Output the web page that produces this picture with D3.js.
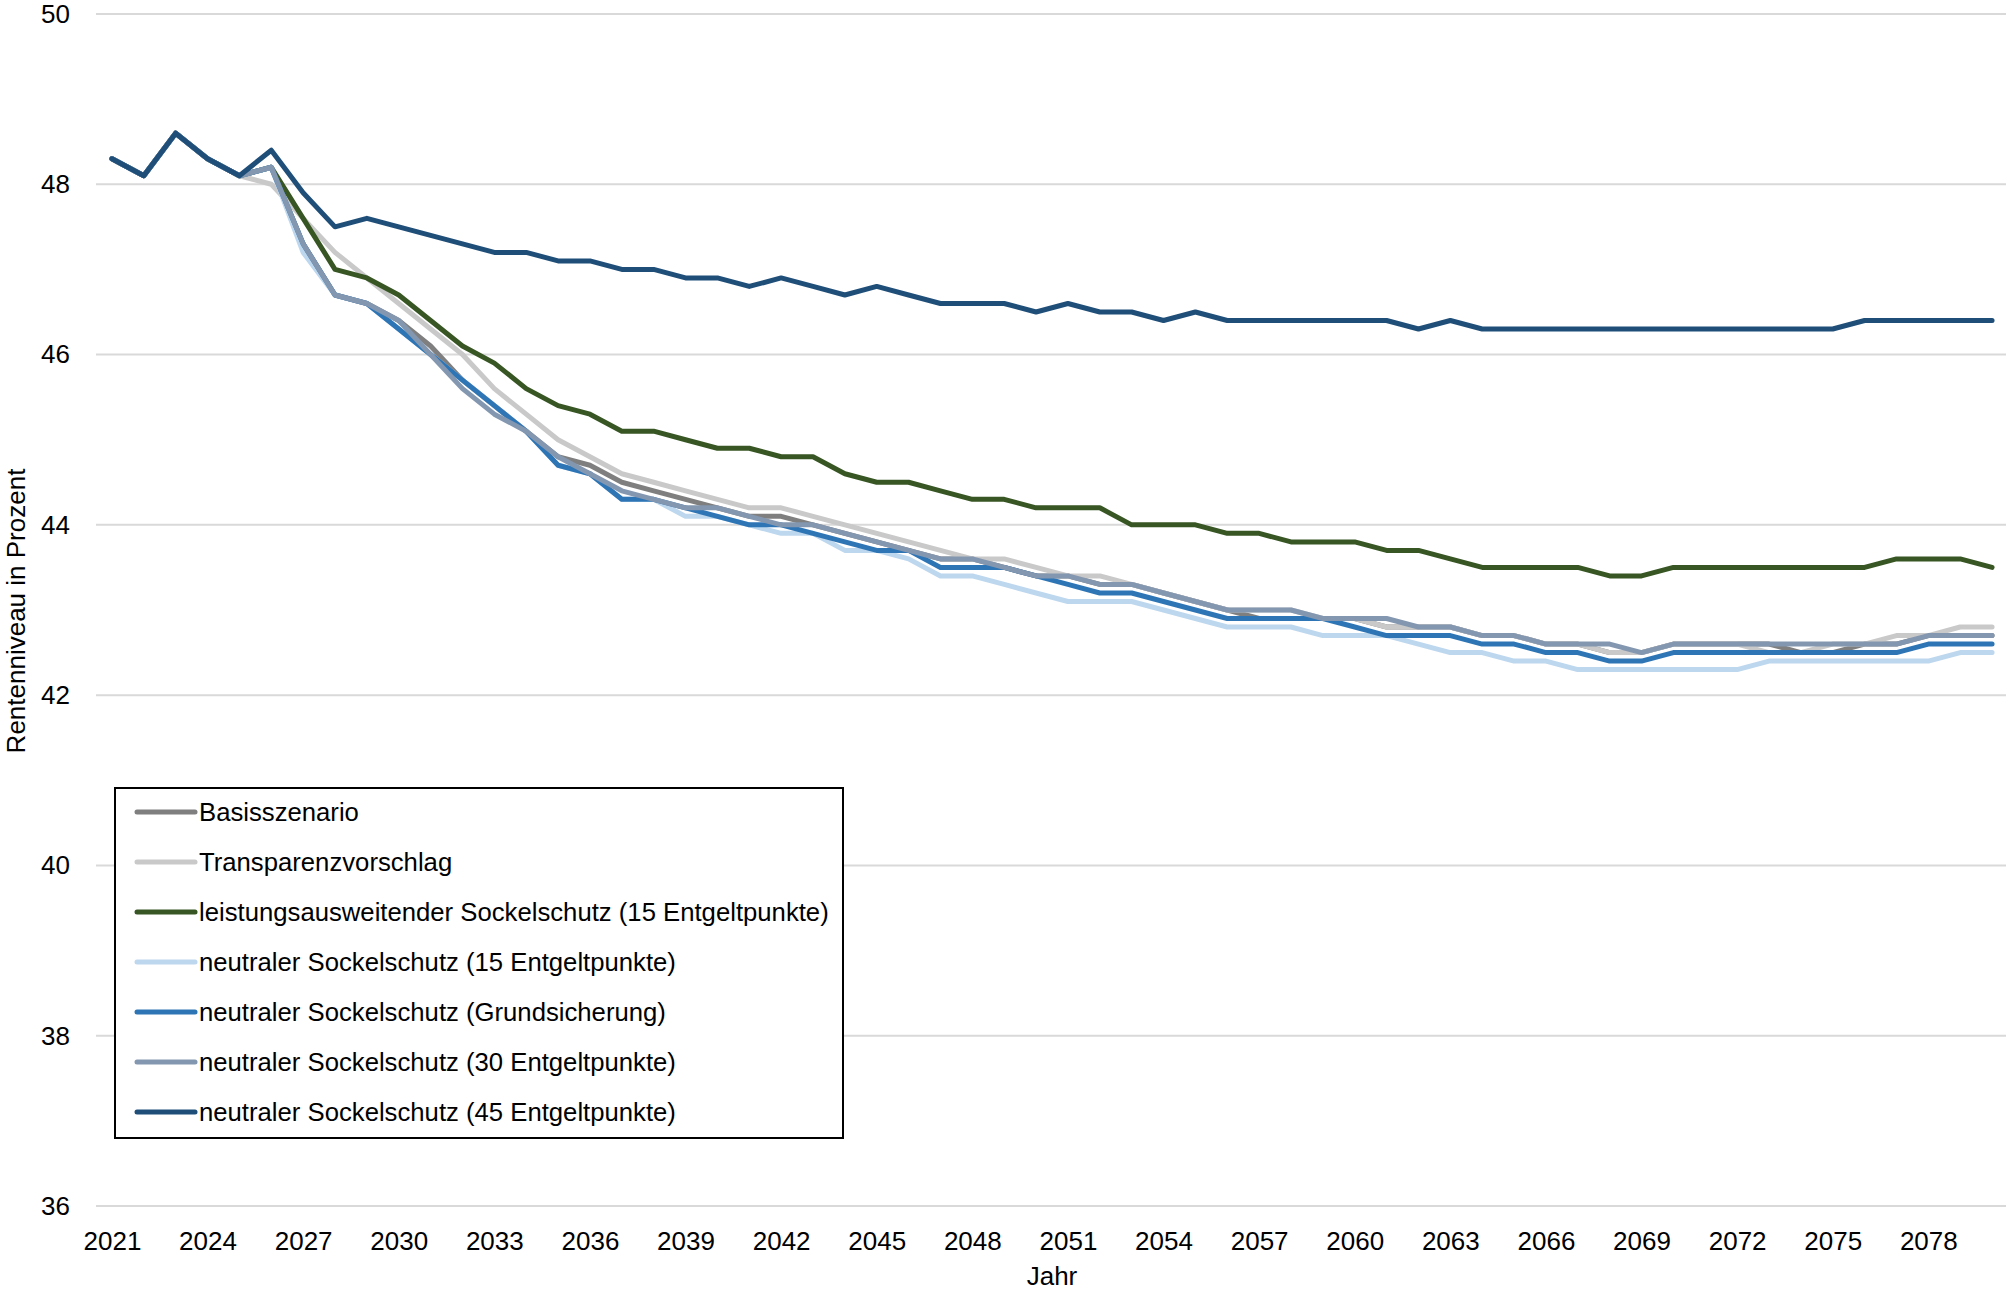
<!DOCTYPE html>
<html>
<head>
<meta charset="utf-8">
<script src="https://cdn.jsdelivr.net/npm/d3@7"></script>
<style>
    body { margin: 0; background: #ffffff; }
    svg { display: block; }
    text { font-family: "Liberation Sans", Arial, sans-serif; fill: #000000; }
</style>
</head>
<body>
<div id="chart"></div>
<script>
//-------------------------------------------------------
// data
//-------------------------------------------------------
const years = d3.range(2021, 2081);
const yTicks = [36, 38, 40, 42, 44, 46, 48, 50];
const xTickLabels = d3.range(2021, 2079, 3);

const seriesNames = [
    "Basisszenario",
    "Transparenzvorschlag",
    "leistungsausweitender Sockelschutz (15 Entgeltpunkte)",
    "neutraler Sockelschutz (15 Entgeltpunkte)",
    "neutraler Sockelschutz (Grundsicherung)",
    "neutraler Sockelschutz (30 Entgeltpunkte)",
    "neutraler Sockelschutz (45 Entgeltpunkte)"
];

const basis = [
    48.3, 48.1, 48.6, 48.3, 48.1, 48.2, 47.3, 46.7, 46.6, 46.4,
    46.1, 45.7, 45.4, 45.1, 44.8, 44.7, 44.5, 44.4, 44.3, 44.2,
    44.1, 44.1, 44.0, 43.9, 43.8, 43.7, 43.6, 43.6, 43.5, 43.4,
    43.4, 43.3, 43.3, 43.2, 43.1, 43.0, 42.9, 42.9, 42.9, 42.9,
    42.8, 42.8, 42.8, 42.7, 42.7, 42.6, 42.6, 42.5, 42.5, 42.6,
    42.6, 42.6, 42.6, 42.5, 42.5, 42.6, 42.6, 42.7, 42.7, 42.7
];
const transparenz = [
    48.3, 48.1, 48.6, 48.3, 48.1, 48.0, 47.6, 47.2, 46.9, 46.6,
    46.3, 46.0, 45.6, 45.3, 45.0, 44.8, 44.6, 44.5, 44.4, 44.3,
    44.2, 44.2, 44.1, 44.0, 43.9, 43.8, 43.7, 43.6, 43.6, 43.5,
    43.4, 43.4, 43.3, 43.2, 43.1, 43.0, 43.0, 43.0, 42.9, 42.9,
    42.8, 42.8, 42.8, 42.7, 42.7, 42.6, 42.6, 42.5, 42.5, 42.6,
    42.6, 42.6, 42.5, 42.5, 42.6, 42.6, 42.7, 42.7, 42.8, 42.8
];
const leistung15 = [
    48.3, 48.1, 48.6, 48.3, 48.1, 48.2, 47.6, 47.0, 46.9, 46.7,
    46.4, 46.1, 45.9, 45.6, 45.4, 45.3, 45.1, 45.1, 45.0, 44.9,
    44.9, 44.8, 44.8, 44.6, 44.5, 44.5, 44.4, 44.3, 44.3, 44.2,
    44.2, 44.2, 44.0, 44.0, 44.0, 43.9, 43.9, 43.8, 43.8, 43.8,
    43.7, 43.7, 43.6, 43.5, 43.5, 43.5, 43.5, 43.4, 43.4, 43.5,
    43.5, 43.5, 43.5, 43.5, 43.5, 43.5, 43.6, 43.6, 43.6, 43.5
];
const neutral15 = [
    48.3, 48.1, 48.6, 48.3, 48.1, 48.2, 47.2, 46.7, 46.6, 46.3,
    46.0, 45.7, 45.4, 45.1, 44.7, 44.6, 44.3, 44.3, 44.1, 44.1,
    44.0, 43.9, 43.9, 43.7, 43.7, 43.6, 43.4, 43.4, 43.3, 43.2,
    43.1, 43.1, 43.1, 43.0, 42.9, 42.8, 42.8, 42.8, 42.7, 42.7,
    42.7, 42.6, 42.5, 42.5, 42.4, 42.4, 42.3, 42.3, 42.3, 42.3,
    42.3, 42.3, 42.4, 42.4, 42.4, 42.4, 42.4, 42.4, 42.5, 42.5
];
const neutralGrund = [
    48.3, 48.1, 48.6, 48.3, 48.1, 48.2, 47.3, 46.7, 46.6, 46.3,
    46.0, 45.7, 45.4, 45.1, 44.7, 44.6, 44.3, 44.3, 44.2, 44.1,
    44.0, 44.0, 43.9, 43.8, 43.7, 43.7, 43.5, 43.5, 43.5, 43.4,
    43.3, 43.2, 43.2, 43.1, 43.0, 42.9, 42.9, 42.9, 42.9, 42.8,
    42.7, 42.7, 42.7, 42.6, 42.6, 42.5, 42.5, 42.4, 42.4, 42.5,
    42.5, 42.5, 42.5, 42.5, 42.5, 42.5, 42.5, 42.6, 42.6, 42.6
];
const neutral30 = [
    48.3, 48.1, 48.6, 48.3, 48.1, 48.2, 47.3, 46.7, 46.6, 46.4,
    46.0, 45.6, 45.3, 45.1, 44.8, 44.6, 44.4, 44.3, 44.2, 44.2,
    44.1, 44.0, 44.0, 43.9, 43.8, 43.7, 43.6, 43.6, 43.5, 43.4,
    43.4, 43.3, 43.3, 43.2, 43.1, 43.0, 43.0, 43.0, 42.9, 42.9,
    42.9, 42.8, 42.8, 42.7, 42.7, 42.6, 42.6, 42.6, 42.5, 42.6,
    42.6, 42.6, 42.6, 42.6, 42.6, 42.6, 42.6, 42.7, 42.7, 42.7
];
const neutral45 = [
    48.3, 48.1, 48.6, 48.3, 48.1, 48.4, 47.9, 47.5, 47.6, 47.5,
    47.4, 47.3, 47.2, 47.2, 47.1, 47.1, 47.0, 47.0, 46.9, 46.9,
    46.8, 46.9, 46.8, 46.7, 46.8, 46.7, 46.6, 46.6, 46.6, 46.5,
    46.6, 46.5, 46.5, 46.4, 46.5, 46.4, 46.4, 46.4, 46.4, 46.4,
    46.4, 46.3, 46.4, 46.3, 46.3, 46.3, 46.3, 46.3, 46.3, 46.3,
    46.3, 46.3, 46.3, 46.3, 46.3, 46.4, 46.4, 46.4, 46.4, 46.4
];
//-------------------------------------------------------

//set properties
let properties = {
    width: 2008,
    height: 1294,
    plot: { left: 96, right: 2008, top: 14, bottom: 1206 },
    line: { width: 5 },
    fontSize: 26,
    color: {
        grid: "#d9d9d9",
        series: ["#7f7f7f", "#c9c9c9", "#375623", "#bdd7ee", "#2e75b6", "#8497b0", "#1f4e79"]
    },
    legend: { x: 115, y: 788, width: 728, height: 350, rowStart: 812, rowStep: 50 }
}

const series = [basis, transparenz, leistung15, neutral15, neutralGrund, neutral30, neutral45];

const svg = d3.select("#chart")
    .append("svg")
    .attr("width", properties.width)
    .attr("height", properties.height);

// scales
const x = d3.scalePoint()
    .domain(years)
    .range([properties.plot.left, properties.plot.right])
    .padding(0.5);

const y = d3.scaleLinear()
    .domain([36, 50])
    .range([properties.plot.bottom, properties.plot.top]);

// gridlines
svg.append("g")
    .attr("id", "grid")
    .selectAll("line")
    .data(yTicks)
    .enter()
    .append("line")
    .attr("x1", properties.plot.left)
    .attr("x2", properties.plot.right - 2)
    .attr("y1", d => y(d))
    .attr("y2", d => y(d))
    .attr("stroke", properties.color.grid)
    .attr("stroke-width", 2);

// y axis labels
const yAxis = svg.append("g")
    .attr("transform", "translate(72,0)")
    .call(d3.axisLeft(y).tickValues(yTicks).tickSize(0).tickPadding(2));
yAxis.select(".domain").remove();
yAxis.selectAll("text")
    .attr("font-size", properties.fontSize)
    .attr("font-family", null)
    .attr("fill", "#000");

// x axis labels
const xAxis = svg.append("g")
    .attr("transform", `translate(0,${properties.plot.bottom + 26})`)
    .call(d3.axisBottom(x).tickValues(xTickLabels).tickSize(0).tickPadding(0));
xAxis.select(".domain").remove();
xAxis.selectAll("text")
    .attr("font-size", properties.fontSize)
    .attr("font-family", null)
    .attr("fill", "#000");

// axis titles
svg.append("text")
    .attr("x", (properties.plot.left + properties.plot.right) / 2)
    .attr("y", 1285)
    .attr("text-anchor", "middle")
    .attr("font-size", properties.fontSize)
    .text("Jahr");

svg.append("text")
    .attr("transform", "translate(25,611) rotate(-90)")
    .attr("text-anchor", "middle")
    .attr("font-size", properties.fontSize)
    .text("Rentenniveau in Prozent");

// lines
const line = d3.line()
    .x((d, i) => x(years[i]))
    .y(d => y(d));

svg.append("g")
    .attr("id", "lines")
    .selectAll("path")
    .data(series)
    .enter()
    .append("path")
    .attr("d", d => line(d))
    .attr("fill", "none")
    .attr("stroke", (d, i) => properties.color.series[i])
    .attr("stroke-width", properties.line.width)
    .attr("stroke-linejoin", "round")
    .attr("stroke-linecap", "round");

// legend
const legend = svg.append("g")
    .attr("id", "legend");

legend.append("rect")
    .attr("x", properties.legend.x)
    .attr("y", properties.legend.y)
    .attr("width", properties.legend.width)
    .attr("height", properties.legend.height)
    .attr("fill", "#ffffff")
    .attr("stroke", "#000000")
    .attr("stroke-width", 2);

const rows = legend.selectAll("g.row")
    .data(seriesNames)
    .enter()
    .append("g")
    .attr("class", "row")
    .attr("transform", (d, i) => `translate(0,${properties.legend.rowStart + i * properties.legend.rowStep})`);

rows.append("line")
    .attr("x1", 137)
    .attr("x2", 195)
    .attr("stroke", (d, i) => properties.color.series[i])
    .attr("stroke-width", properties.line.width)
    .attr("stroke-linecap", "round");

rows.append("text")
    .attr("x", 199)
    .attr("dy", "0.35em")
    .attr("font-size", 25.7)
    .text(d => d);
</script>
</body>
</html>
